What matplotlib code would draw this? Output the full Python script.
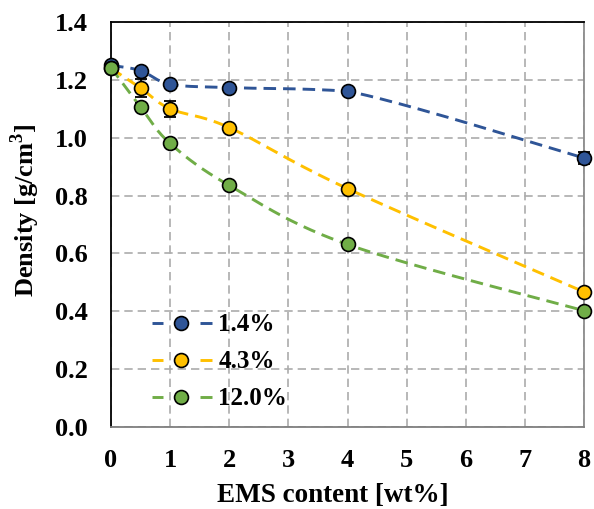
import numpy as np
import matplotlib
matplotlib.use("Agg")
import matplotlib.pyplot as plt
from matplotlib.lines import Line2D
from matplotlib.legend_handler import HandlerBase

x = [0, 0.5, 1, 2, 4, 8]
labels = ["1.4%", "4.3%", "12.0%"]
y_blue = [1.25, 1.232, 1.185, 1.173, 1.161, 0.93]
y_yellow = [1.24, 1.172, 1.10, 1.035, 0.824, 0.467]
y_green = [1.242, 1.106, 0.980, 0.835, 0.631, 0.402]
e_blue = [0.01, 0.01, 0.01, 0.01, 0.012, 0.02]
e_yellow = [0.01, 0.03, 0.028, 0.008, 0.01, 0.01]
e_green = [0.01, 0.015, 0.01, 0.008, 0.01, 0.008]
colors = ["#2F5597", "#FFC000", "#70AD47"]
xticks = [0, 1, 2, 3, 4, 5, 6, 7, 8]
yticks = [0.0, 0.2, 0.4, 0.6, 0.8, 1.0, 1.2, 1.4]

plt.rcParams['font.family'] = ['Liberation Serif', 'DejaVu Serif']
plt.rcParams['font.weight'] = 'bold'
plt.rcParams['mathtext.fontset'] = 'custom'
plt.rcParams['mathtext.bf'] = 'Liberation Serif:bold'
plt.rcParams['mathtext.rm'] = 'Liberation Serif:bold'


def smooth(xs, ys, n=40):
    """Spreadsheet-style Bezier smoothing, with control heights kept within each segment."""
    P = np.column_stack([np.asarray(xs, float), np.asarray(ys, float)])
    X, Y = [], []
    for i in range(len(P) - 1):
        p0 = P[i - 1] if i > 0 else P[i]
        p1 = P[i]; p2 = P[i + 1]
        p3 = P[i + 2] if i + 2 < len(P) else P[i + 1]
        c1 = p1 + (p2 - p0) / 6.0
        c2 = p2 - (p3 - p1) / 6.0
        lo, hi = min(p1[1], p2[1]), max(p1[1], p2[1])
        c1[1] = np.clip(c1[1], lo, hi)
        c2[1] = np.clip(c2[1], lo, hi)
        t = np.linspace(0, 1, n)[:, None]
        seg = (1 - t)**3 * p1 + 3 * (1 - t)**2 * t * c1 + 3 * (1 - t) * t**2 * c2 + t**3 * p2
        if i > 0:
            seg = seg[1:]
        X.append(seg[:, 0]); Y.append(seg[:, 1])
    return np.concatenate(X), np.concatenate(Y)


class Key:
    def __init__(self, color):
        self.color = color


class KeyHandler(HandlerBase):
    def create_artists(self, legend, orig_handle, xdescent, ydescent, width, height, fontsize, trans):
        c = orig_handle.color
        y = height / 2 - ydescent
        x0 = -xdescent
        a = Line2D([x0, x0 + 0.185 * width], [y, y], color=c, lw=2.1, solid_capstyle='butt')
        b = Line2D([x0 + 0.8 * width, x0 + width], [y, y], color=c, lw=2.1, solid_capstyle='butt')
        m = Line2D([x0 + 0.485 * width], [y], linestyle='none', marker='o', ms=10, mfc=c, mec='black', mew=1.2)
        for art in (a, b, m):
            art.set_transform(trans)
        return [a, b, m]


fig = plt.figure(figsize=(5.94, 5.09), dpi=100)
ax = fig.add_axes([0.1869, 0.1611, 0.9832 - 0.1869, 0.9568 - 0.1611])

ax.set_xlim(0, 8)
ax.set_ylim(0, 1.4)
ax.set_xticks(xticks)
ax.set_yticks(yticks)
ax.set_xticklabels([str(v) for v in xticks])
ax.set_yticklabels([f"{v:.1f}" for v in yticks])
ax.grid(True, color="#ABABAB", linestyle=(0, (5, 3)), linewidth=1.2)
ax.set_axisbelow(True)
ax.tick_params(length=0, labelsize=19)
ax.tick_params(axis='y', pad=17)
ax.tick_params(axis='x', pad=16)
for lab in ax.get_xticklabels() + ax.get_yticklabels():
    lab.set_fontweight('bold')

ax.spines['left'].set_color('black')
ax.spines['top'].set_color('black')
ax.spines['right'].set_color('#8C8C8C')
ax.spines['bottom'].set_color('#7F7F7F')
for s in ax.spines.values():
    s.set_linewidth(1.3)

LW = 2.1
dash = (0, (4.3, 2.4))
keys = []
for ys, es, c in zip([y_blue, y_yellow, y_green], [e_blue, e_yellow, e_green], colors):
    sx, sy = smooth(x, ys)
    ax.plot(sx, sy, color=c, lw=LW, linestyle=dash, zorder=3, clip_on=False)
    ax.errorbar(x, ys, yerr=es, fmt='none', ecolor='black', elinewidth=1.3, capsize=4, capthick=1.3, zorder=4, clip_on=False)
    ax.plot(x, ys, 'o', ms=10, mfc=c, mec='black', mew=1.2, zorder=5, clip_on=False, linestyle='none')
    keys.append(Key(c))

leg = ax.legend(handles=keys, labels=labels, loc='center left', bbox_to_anchor=(0.0867, 0.1605),
                frameon=False, handler_map={Key: KeyHandler()},
                prop={'family': ['Liberation Serif'], 'weight': 'bold', 'size': 18},
                handlelength=2.4, handletextpad=0.25, labelspacing=0.56, borderpad=0, borderaxespad=0)

fig.text(333 / 594, 1 - 502 / 509, "EMS content [wt%]", fontsize=19.5, fontweight='bold', ha='center', va='baseline')
fig.text(25 / 594, 1 - 210 / 509, "Density [g/cm$^{\\mathbf{3}}$]", fontsize=19, fontweight='bold',
         ha='center', va='center', rotation=90)

fig.savefig("out.png", dpi=100)
